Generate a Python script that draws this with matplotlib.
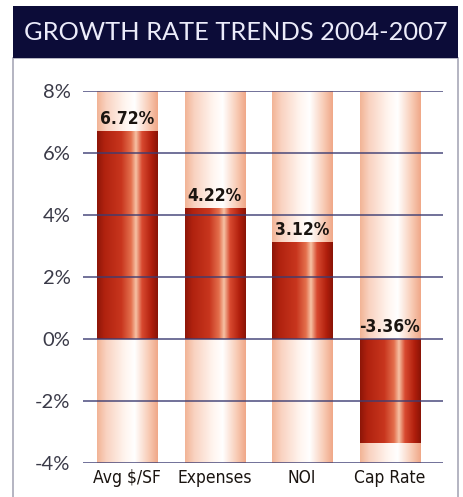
import numpy as np
import matplotlib.pyplot as plt
from matplotlib import font_manager
from matplotlib.patches import Rectangle
from matplotlib.colors import LinearSegmentedColormap

# data
categories = ["Avg $/SF", "Expenses", "NOI", "Cap Rate"]
values = [6.72, 4.22, 3.12, -3.36]
labels = ["6.72%", "4.22%", "3.12%", "-3.36%"]
yticks = [-4, -2, 0, 2, 4, 6, 8]
title = "GROWTH RATE TRENDS 2004-2007"

# pick a condensed face if one is installed
cond = None
for f in font_manager.fontManager.ttflist:
    if f.stretch in ("condensed", "semi-condensed") or "Narrow" in f.name or "Condensed" in f.name:
        cond = f
        break
if cond is not None:
    narrow = dict(family=[cond.name, "DejaVu Sans"], fontstretch=cond.stretch)
else:
    narrow = dict(family=["DejaVu Sans"])
light = ["Lato", "DejaVu Sans"]

red_cmap = LinearSegmentedColormap.from_list("red", [
    (0.0, "#8e1608"), (0.12, "#b0220f"), (0.4, "#c8361e"),
    (0.56, "#e4704e"), (0.64, "#f6c2a4"), (0.74, "#d84a30"),
    (0.9, "#b01e0c"), (1.0, "#8a1406")])
pale_cmap = LinearSegmentedColormap.from_list("pale", [
    (0.0, "#f2b496"), (0.15, "#f9d2c0"), (0.45, "#fff4ee"),
    (0.62, "#ffffff"), (0.85, "#f8ccb6"), (1.0, "#f0a888")])

fig = plt.figure(figsize=(4.64, 4.97), dpi=100)

# frame and title banner
fig.patches.append(Rectangle((13/464, -0.02), 445/464, 1.02 - 58/497,
                             transform=fig.transFigure, facecolor="white",
                             edgecolor="#a8a8b8", linewidth=1.2, zorder=-2))
fig.patches.append(Rectangle((13/464, 1 - 58/497), 445/464, 52/497,
                             transform=fig.transFigure, facecolor="#0c0c38",
                             edgecolor="none", zorder=-1))
fig.text(0.5 + 4/464, 1 - 32/497, title, color="#ececfa", fontsize=18.3,
         family=light, ha="center", va="center")

ax = fig.add_axes([83/464, 34/497, 360/464, 372/497])
ax.set_zorder(2)
ax.set_facecolor("none")

x = np.arange(len(categories))
w = 0.686
grad = np.linspace(0, 1, 200).reshape(1, -1)

# pale background columns
bg = ax.bar(x, [12] * len(x), bottom=-4, width=w, color="none", edgecolor="none")
for p in bg:
    im = ax.imshow(grad, cmap=pale_cmap, aspect="auto", zorder=1,
                   extent=[p.get_x(), p.get_x() + w, -4, 8])
    im.set_clip_path(p)

# value bars
bars = ax.bar(x, values, width=w, color="none", edgecolor="none", zorder=2)
for p in bars:
    y0, h = p.get_y(), p.get_height()
    im = ax.imshow(grad, cmap=red_cmap, aspect="auto", zorder=2,
                   extent=[p.get_x(), p.get_x() + w, y0, y0 + h])
    im.set_clip_path(p)

for xi, v, lab in zip(x, values, labels):
    ax.text(xi, max(v, 0) + 0.1, lab, ha="center", va="bottom",
            fontsize=12.5, fontweight="bold", color="#1a1410", zorder=4, **narrow)

for yt in yticks:
    ax.axhline(yt, color="#3c3c72", linewidth=1.2, alpha=0.85, zorder=3)

ax.set_xlim(-0.503, 3.61)
ax.set_ylim(-4, 8)
ax.set_yticks(yticks)
ax.set_yticklabels([f"{t}%" for t in yticks], family=light,
                   fontsize=14.5, color="#3a3a48")
ax.set_xticks(x)
ax.set_xticklabels(categories, fontsize=12.5, color="#1a1410", **narrow)
ax.tick_params(length=0)
ax.tick_params(axis="y", pad=9)
ax.tick_params(axis="x", pad=4)
for s in ax.spines.values():
    s.set_visible(False)

fig.savefig("out.png", dpi=100)
